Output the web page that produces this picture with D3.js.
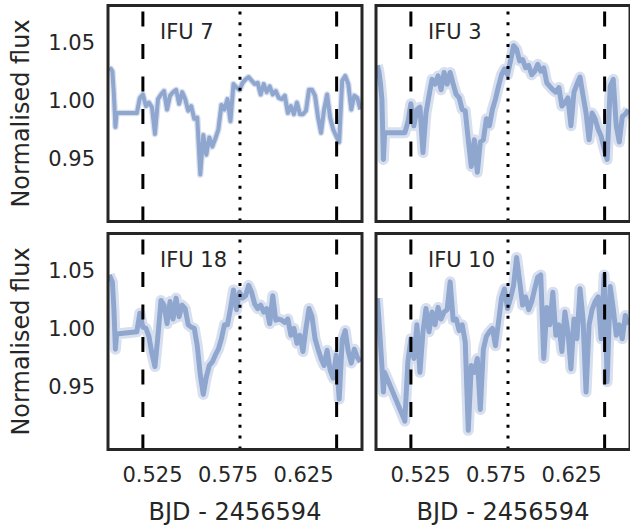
<!DOCTYPE html>
<html>
<head>
<meta charset="utf-8">
<script src="https://cdn.jsdelivr.net/npm/d3@7"></script>
<style>
  body { margin: 0; background: #fff; }
  text { font-family: "DejaVu Sans", sans-serif; fill: #262626; }
</style>
</head>
<body>
<div id="chart"></div>
<script>
// Observation times (BJD - 2456594), shared by all IFUs
const bjd = [0.4968, 0.4978, 0.4988, 0.4998, 0.5008, 0.5016,
  0.515, 0.517, 0.519, 0.521, 0.523, 0.525, 0.527, 0.529, 0.531, 0.533,
  0.535, 0.537, 0.539, 0.541, 0.543, 0.545, 0.547, 0.549, 0.551, 0.553,
  0.555, 0.557, 0.559, 0.561, 0.563, 0.565, 0.567, 0.569, 0.571, 0.573,
  0.575, 0.577, 0.579, 0.581, 0.583, 0.585, 0.587, 0.589, 0.591, 0.593,
  0.595, 0.597, 0.599, 0.601, 0.603, 0.605, 0.607, 0.609, 0.611, 0.613,
  0.615, 0.617, 0.619, 0.621, 0.623, 0.625, 0.627, 0.629, 0.631, 0.633,
  0.635, 0.637, 0.639, 0.641, 0.643, 0.645, 0.647, 0.649, 0.651, 0.653,
  0.655, 0.657, 0.659, 0.661, 0.663];

const fluxIFU7 = [1.028, 1.027, 1.025, 1.005, 0.977, 0.989,
  0.989, 1.002, 1.005, 0.995, 0.998, 0.994, 0.971, 1.001, 1.005, 1.008,
  0.992, 1.004, 1.007, 1.009, 0.997, 1.007, 1.001, 0.991, 0.995, 0.984,
  0.985, 0.936, 0.970, 0.953, 0.968, 0.960, 0.967, 0.975, 0.996, 0.992,
  1.001, 0.982, 1.014, 1.011, 1.009, 1.015, 1.018, 1.020, 1.017, 1.014,
  1.015, 1.005, 1.014, 1.007, 1.012, 1.005, 1.008, 1.002, 1.001, 1.004,
  0.989, 0.995, 0.988, 0.998, 0.988, 0.988, 0.991, 1.009, 1.009, 1.004,
  0.985, 0.972, 0.992, 1.005, 0.985, 0.975, 0.969, 0.964, 1.017, 1.021,
  1.014, 0.992, 1.004, 1.002, 0.992];

const fluxIFU3 = [1.030, 1.025, 1.015, 1.001, 0.949, 0.972,
  0.972, 0.981, 0.997, 0.978, 0.992, 0.994, 0.955, 0.989, 1.004, 1.018,
  1.014, 1.021, 1.009, 1.024, 1.014, 1.024, 1.014, 1.005, 1.002, 0.992,
  0.991, 0.966, 0.943, 0.966, 0.938, 0.964, 0.966, 0.984, 0.978, 0.992,
  1.001, 1.012, 1.022, 1.027, 1.022, 1.034, 1.047, 1.044, 1.034, 1.035,
  1.028, 1.030, 1.022, 1.025, 1.031, 1.025, 1.028, 1.015, 1.012, 1.009,
  1.007, 1.011, 0.995, 0.998, 1.002, 0.978, 1.007, 1.014, 1.020, 1.004,
  0.989, 0.966, 0.989, 0.984, 0.975, 0.969, 0.958, 0.949, 1.012, 1.018,
  0.978, 0.964, 0.986, 0.988, 0.992];

const fluxIFU18 = [1.046, 1.043, 1.040, 1.017, 0.982, 0.995,
  0.997, 1.013, 1.001, 1.000, 0.993, 0.978, 0.967, 0.994, 1.024, 1.020,
  1.004, 1.023, 1.008, 1.026, 1.010, 1.020, 1.017, 1.003, 1.001, 1.000,
  0.985, 0.960, 0.943, 0.958, 0.968, 0.971, 0.977, 0.982, 0.991, 1.003,
  1.003, 1.017, 1.033, 1.016, 1.031, 1.026, 1.028, 1.037, 1.031, 1.021,
  1.017, 1.020, 1.014, 1.017, 1.004, 1.028, 1.007, 1.008, 1.007, 1.005,
  1.008, 0.994, 1.000, 0.987, 0.994, 0.980, 1.000, 1.017, 1.010, 0.991,
  0.982, 0.974, 0.968, 0.981, 0.964, 0.957, 0.977, 0.939, 0.990, 0.998,
  0.980, 0.970, 0.982, 0.975, 0.971];

const fluxIFU10 = [1.026, 1.008, 0.988, 0.968, 0.945, 0.962,
  0.920, 0.971, 0.991, 0.974, 1.003, 0.962, 0.997, 1.017, 0.997, 1.014,
  1.003, 1.018, 1.008, 1.014, 1.016, 1.040, 1.007, 1.008, 0.998, 1.003,
  0.988, 0.912, 0.968, 0.962, 0.974, 0.930, 0.982, 0.993, 0.997, 1.000,
  0.985, 1.005, 1.026, 1.034, 1.017, 1.026, 1.037, 1.061, 1.041, 1.020,
  1.027, 1.016, 1.023, 1.034, 1.044, 1.046, 0.974, 1.018, 1.003, 1.031,
  0.994, 1.003, 0.980, 1.014, 0.997, 0.965, 1.008, 0.991, 1.034, 1.008,
  0.945, 1.003, 1.016, 1.023, 1.027, 0.991, 1.046, 0.954, 1.036, 1.017,
  0.994, 1.003, 0.991, 1.011, 1.003];

const panelNames = ['IFU 7', 'IFU 3', 'IFU 18', 'IFU 10'];
const panelFlux = [fluxIFU7, fluxIFU3, fluxIFU18, fluxIFU10];
const xTicks = [0.525, 0.575, 0.625];
const yTicks = [0.95, 1.00, 1.05];
const contactTimes = [0.5190, 0.6473];   // dashed
const midTime = [0.5833];                // dotted

const width = 630;
const height = 526;
const pw = 254, ph = 216;
const panelX = [108, 376];
const panelY = [5.5, 233.5];
// band of overlapping traces: narrow for IFU 7, wider for the others
const haloWidth = [6.5, 11, 11, 11];
const coreWidth = [4, 5, 5, 5];

const x = d3.scaleLinear().domain([0.4959, 0.6641]).range([0, pw]);
const y = d3.scaleLinear().domain([0.8955, 1.0817]).range([ph, 0]);

const svg = d3.select('#chart').append('svg')
  .attr('width', width)
  .attr('height', height);

const line = d3.line()
  .x((d, i) => x(bjd[i]))
  .y(d => y(d));

panelNames.forEach((name, p) => {
  const col = p % 2, row = Math.floor(p / 2);
  const g = svg.append('g')
    .attr('transform', `translate(${panelX[col]},${panelY[row]})`);

  g.append('clipPath').attr('id', `clip${p}`)
    .append('rect').attr('width', pw).attr('height', ph);

  const plot = g.append('g').attr('clip-path', `url(#clip${p})`);

  plot.append('path')
    .datum(panelFlux[p])
    .attr('d', line)
    .attr('fill', 'none')
    .attr('stroke', '#d8e0ef')
    .attr('stroke-width', haloWidth[p])
    .attr('stroke-linejoin', 'round');

  plot.append('path')
    .datum(panelFlux[p])
    .attr('d', line)
    .attr('fill', 'none')
    .attr('stroke', '#8fa6cf')
    .attr('stroke-width', coreWidth[p])
    .attr('stroke-linejoin', 'round');

  // vertical markers
  plot.selectAll('.contact')
    .data(contactTimes)
    .enter()
    .append('line')
    .attr('x1', d => x(d)).attr('x2', d => x(d))
    .attr('y1', ph).attr('y2', 0)
    .attr('stroke', '#000')
    .attr('stroke-width', 3)
    .attr('stroke-dasharray', '15 17.5');

  plot.selectAll('.mid')
    .data(midTime)
    .enter()
    .append('line')
    .attr('x1', d => x(d)).attr('x2', d => x(d))
    .attr('y1', ph).attr('y2', 0)
    .attr('stroke', '#000')
    .attr('stroke-width', 3)
    .attr('stroke-dasharray', '3 7.9');

  g.append('text')
    .attr('x', 52)
    .attr('y', 33.5)
    .attr('font-size', 21)
    .text(name);

  // frame
  g.append('rect')
    .attr('width', pw)
    .attr('height', ph)
    .attr('fill', 'none')
    .attr('stroke', '#262626')
    .attr('stroke-width', 3);

  if (col === 0) {
    const ay = g.append('g')
      .call(d3.axisLeft(y).tickValues(yTicks).tickSize(0).tickPadding(13).tickFormat(d3.format('.2f')));
    ay.select('.domain').remove();
    ay.selectAll('text').attr('font-size', 21).attr('font-family', 'DejaVu Sans').attr('fill', '#262626');

    g.append('text')
      .attr('transform', `translate(-79,${ph / 2}) rotate(-90)`)
      .attr('text-anchor', 'middle')
      .attr('font-size', 24)
      .text('Normalised flux');
  }

  if (row === 1) {
    const ax = g.append('g')
      .attr('transform', `translate(0,${ph})`)
      .call(d3.axisBottom(x).tickValues(xTicks).tickSize(0).tickPadding(18).tickFormat(d3.format('.3f')));
    ax.select('.domain').remove();
    ax.selectAll('text').attr('font-size', 21).attr('font-family', 'DejaVu Sans').attr('fill', '#262626');

    g.append('text')
      .attr('x', pw / 2)
      .attr('y', ph + 70)
      .attr('text-anchor', 'middle')
      .attr('font-size', 24)
      .text('BJD - 2456594');
  }
});
</script>
</body>
</html>
